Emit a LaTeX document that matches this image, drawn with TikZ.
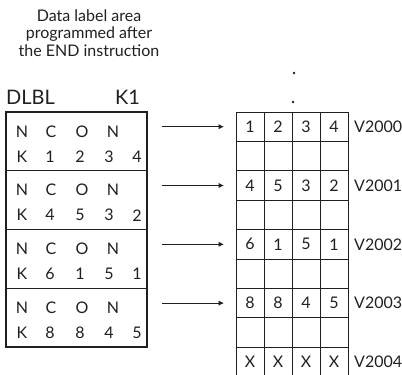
\documentclass[tikz,border=0pt]{standalone}
\usepackage{fontspec}
\setmainfont{Lato}
\usepackage{tikz}
\usetikzlibrary{arrows.meta,positioning}
\definecolor{ink}{HTML}{231F20}

\begin{document}
\begin{tikzpicture}[
  x=1pt, y=-1pt,
  blockbox/.style={
    rectangle,
    draw=ink,
    line width=1.1pt,
    outer sep=0pt,
    inner sep=0pt,
    minimum width=141pt,
    minimum height=58.75pt
  },
  cell/.style={
    rectangle,
    draw=ink,
    line width=1pt,
    outer sep=0pt,
    inner sep=0pt,
    minimum width=28pt,
    minimum height=29.4pt,
    text=ink,
    font=\fontsize{16}{18}\selectfont
  },
  opencell/.style={cell, draw=none},
  ktext/.style={inner sep=0pt, text=ink, font=\fontsize{16}{18}\selectfont},
  vlab/.style={inner sep=0pt, text=ink, font=\fontsize{16}{18}\selectfont},
  dot/.style={circle, fill=ink, inner sep=0pt, minimum size=2.8pt},
  arrow/.style={-{Latex[length=5.5pt,width=5.5pt]}, line width=1pt, draw=ink,
    shorten <=15pt, shorten >=12pt}
]
\useasboundingbox (0,0) rectangle (402,375);

% heading
\node[align=center, text=ink, font=\fontsize{16}{17.5}\selectfont] (title) at (89,33)
  {Data label area\\programmed after\\the END instruction};
\node[anchor=base west, inner sep=0pt, text=ink, font=\fontsize{20}{22}\selectfont] (dlbl) at (6,104) {DLBL};
\node[anchor=base west, inner sep=0pt, text=ink, font=\fontsize{20}{22}\selectfont] (kone) at (115,104) {K1};

% data label blocks
\foreach \i/\a/\b/\c/\d [count=\k from 0] in {1/1/2/3/4, 2/4/5/3/2, 3/6/1/5/1, 4/8/8/4/5} {
  \pgfmathsetmacro\ytop{112+58.75*\k}
  \node[blockbox, anchor=north west] (blk\i) at (6,\ytop) {};
  \node[ktext] (blk\i-n1) at (22,\ytop+19.5) {N};
  \node[ktext] (blk\i-c) at (51,\ytop+19.5) {C};
  \node[ktext] (blk\i-o) at (82,\ytop+19.5) {O};
  \node[ktext] (blk\i-n2) at (113,\ytop+19.5) {N};
  \node[ktext] (blk\i-k) at (22,\ytop+44.5) {K};
  \node[ktext] (blk\i-a) at (50,\ytop+44.5) {\a};
  \node[ktext] (blk\i-b) at (80,\ytop+44.5) {\b};
  \node[ktext] (blk\i-c2) at (109,\ytop+44.5) {\c};
  \node[ktext] (blk\i-d) at (137,\ytop+44.5) {\d};
}

% V-memory table
\foreach \r/\vals in {0/{1,2,3,4}, 2/{4,5,3,2}, 4/{6,1,5,1}, 6/{8,8,4,5}} {
  \foreach \v [count=\c from 0] in \vals
    \node[cell] (g-\r-\c) at (250+28*\c,126.7+29.4*\r) {\v};
}
\foreach \r in {1,3,5,7} {
  \foreach \c in {0,...,3}
    \node[cell] (g-\r-\c) at (250+28*\c,126.7+29.4*\r) {};
}
\foreach \c in {0,...,3}
  \node[opencell] (g-8-\c) at (250+28*\c,126.7+29.4*8) {X};
\coordinate (bottom) at (0,375);
\foreach \c in {0,...,3}
  \draw[ink, line width=1pt] (g-8-\c.north west) -- (g-8-\c.north west |- bottom)
    (g-8-\c.north east) -- (g-8-\c.north east |- bottom);
\draw[ink, line width=1pt] (g-8-0.north west) -- (g-8-3.north east);

\node[dot] (dot1) at (294,73) {};
\node[dot] (dot2) at (293,102) {};

\node[vlab, right=6pt of g-0-3] (v2000) {V2000};
\node[vlab, right=6pt of g-2-3] (v2001) {V2001};
\node[vlab, right=6pt of g-4-3] (v2002) {V2002};
\node[vlab, right=6pt of g-6-3] (v2003) {V2003};
\node[vlab, right=6pt of g-8-3] (v2004) {V2004};

\draw[arrow] (blk1.east |- g-0-0) -- (g-0-0.west);
\draw[arrow] (blk2.east |- g-2-0) -- (g-2-0.west);
\draw[arrow] (blk3.east |- g-4-0) -- (g-4-0.west);
\draw[arrow] (blk4.east |- g-6-0) -- (g-6-0.west);
\end{tikzpicture}
\end{document}
